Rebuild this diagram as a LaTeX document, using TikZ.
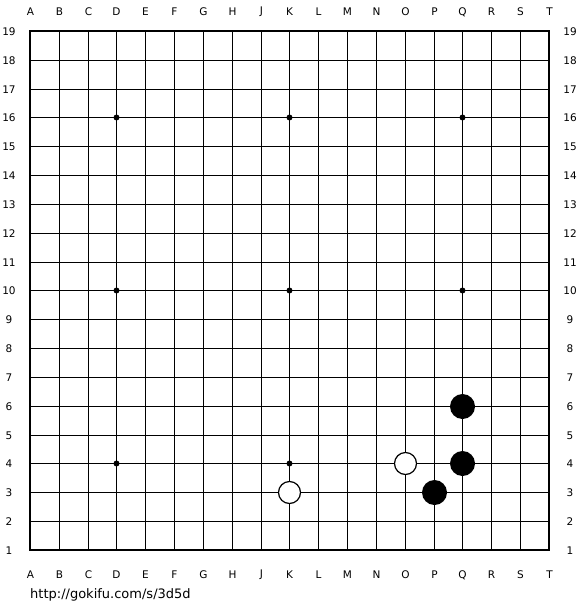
\documentclass[tikz,border=0pt]{standalone}
\usepackage{fontspec}
\setmainfont{DejaVu Sans}
\begin{document}
\begin{tikzpicture}[x=1pt,y=-1pt,
  lbl/.style={font=\fontsize{10.5}{12}\selectfont, inner sep=0pt},
  blackstone/.style={circle, fill=black, minimum size=25pt, inner sep=0pt},
  whitestone/.style={circle, draw=black, line width=1.2pt, fill=white, minimum size=22pt, inner sep=0pt},
  star/.style={circle, fill=black, minimum size=6pt, inner sep=0pt}]
\useasboundingbox[fill=white] (0,0) rectangle (580,610);
\def\sp{28.83}
\def\ox{30}
\def\oy{31}
% grid
\foreach \i in {1,...,17} {
  \pgfmathsetmacro{\gx}{round(\ox+\i*\sp)+0.5}
  \pgfmathsetmacro{\gy}{round(\oy+\i*\sp)+0.5}
  \draw[line width=1pt] (\gx,\oy) -- (\gx,550);
  \draw[line width=1pt] (\ox,\gy) -- (549,\gy);
}
\draw[line width=2pt] (30,31) rectangle (549,550);
% column labels
\foreach \c [count=\i from 0] in {A,B,C,D,E,F,G,H,J,K,L,M,N,O,P,Q,R,S,T} {
  \pgfmathsetmacro{\gx}{round(\ox+\i*\sp)+0.5}
  \node[lbl] (top\c) at (\gx,12) {\c};
  \node[lbl] (bot\c) at (\gx,575) {\c};
}
% row labels
\foreach \r in {1,...,19} {
  \pgfmathsetmacro{\gy}{round(\oy+(19-\r)*\sp)+0.5}
  \node[lbl] (left\r) at (9,\gy) {\r};
  \node[lbl] (right\r) at (570,\gy) {\r};
}
% star points
\foreach \i/\r [count=\n] in {3/16,9/16,15/16,3/10,9/10,15/10,3/4,9/4,15/4} {
  \pgfmathsetmacro{\gx}{round(\ox+\i*\sp)+0.5}
  \pgfmathsetmacro{\gy}{round(\oy+(19-\r)*\sp)+0.5}
  \node[star] (star\n) at (\gx,\gy) {};
}
% stones
\pgfmathsetmacro{\xQ}{round(\ox+15*\sp)+0.5}
\pgfmathsetmacro{\xP}{round(\ox+14*\sp)+0.5}
\pgfmathsetmacro{\xO}{round(\ox+13*\sp)+0.5}
\pgfmathsetmacro{\xK}{round(\ox+9*\sp)+0.5}
\pgfmathsetmacro{\ySix}{round(\oy+13*\sp)+0.5}
\pgfmathsetmacro{\yFour}{round(\oy+15*\sp)+0.5}
\pgfmathsetmacro{\yThree}{round(\oy+16*\sp)+0.5}
\node[blackstone] (Q6) at (\xQ,\ySix) {};
\node[blackstone] (Q4) at (\xQ,\yFour) {};
\node[blackstone] (P3) at (\xP,\yThree) {};
\node[whitestone] (O4) at (\xO,\yFour) {};
\node[whitestone] (K3) at (\xK,\yThree) {};
% url
\node[anchor=west, inner sep=0pt, font=\fontsize{13}{15}\selectfont] (url) at (30,595) {http://gokifu.com/s/3d5d};
\end{tikzpicture}
\end{document}
